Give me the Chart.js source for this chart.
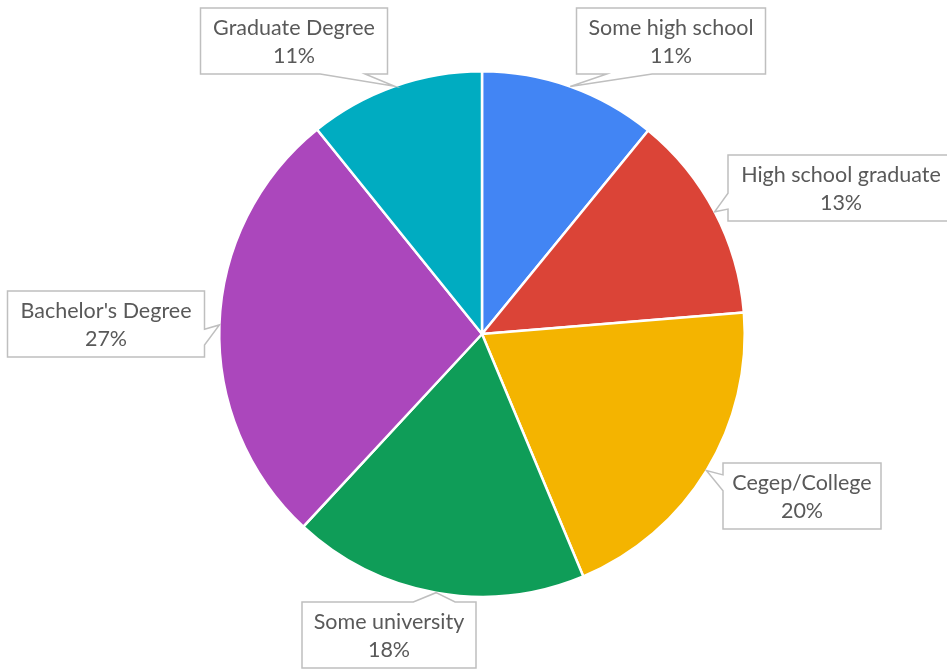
<!DOCTYPE html>
<html>
<head>
<meta charset="utf-8">
<script src="https://cdn.jsdelivr.net/npm/chart.js@4.4.1/dist/chart.umd.min.js"></script>
<style>
  html, body { margin: 0; padding: 0; background: #ffffff; }
  #wrap { width: 947px; height: 669px; }
</style>
</head>
<body>
<div id="wrap"><canvas id="pie"></canvas></div>
<script>
const categories = ["Some high school", "High school graduate", "Cegep/College", "Some university", "Bachelor's Degree", "Graduate Degree"];
const shares = [10.9, 12.8, 20.0, 18.2, 27.3, 10.8];
const colors = ["#4285F4", "#DB4437", "#F4B400", "#0F9D58", "#AB47BC", "#00ACC1"];

// callout box centre and width per slice (layout only)
const boxCenters = [[671, 41], [841, 188], [802, 496], [389, 635], [106, 324], [294, 41]];
const boxWidths = [189, 226, 158, 174, 197, 187];
const boxHeight = 66;

const calloutPlugin = {
  id: "callouts",
  afterDraw(chart) {
    const ctx = chart.ctx;
    const meta = chart.getDatasetMeta(0);
    const total = shares.reduce((a, b) => a + b, 0);
    ctx.save();
    ctx.font = "21.5px Lato";
    ctx.textAlign = "center";
    ctx.textBaseline = "middle";
    meta.data.forEach((arc, i) => {
      const mid = (arc.startAngle + arc.endAngle) / 2;
      const tx = arc.x + Math.cos(mid) * arc.outerRadius;
      const ty = arc.y + Math.sin(mid) * arc.outerRadius;
      const [cx, cy] = boxCenters[i];
      const w = boxWidths[i], h = boxHeight;
      const l = cx - w / 2, r = cx + w / 2, t = cy - h / 2, b = cy + h / 2;

      // which edge gets the pointer
      const ox = tx < l ? l - tx : (tx > r ? tx - r : 0);
      const oy = ty < t ? t - ty : (ty > b ? ty - b : 0);
      const pts = [];
      if (oy >= ox) {
        const f = tx > cx ? 0.76 : 0.28;
        const bw = w * 0.24;
        const m = l + w * f;
        if (ty > b) {
          pts.push([l, t], [r, t], [r, b], [m + bw / 2, b], [tx, ty], [m - bw / 2, b], [l, b]);
        } else {
          pts.push([l, t], [m - bw / 2, t], [tx, ty], [m + bw / 2, t], [r, t], [r, b], [l, b]);
        }
      } else {
        const f = ty > cy ? 0.7 : 0.3;
        const bh = h * 0.24;
        const m = t + h * f;
        if (tx < l) {
          pts.push([l, t], [r, t], [r, b], [l, b], [l, m + bh / 2], [tx, ty], [l, m - bh / 2]);
        } else {
          pts.push([l, t], [r, t], [r, m - bh / 2], [tx, ty], [r, m + bh / 2], [r, b], [l, b]);
        }
      }
      ctx.beginPath();
      pts.forEach((p, k) => k ? ctx.lineTo(p[0], p[1]) : ctx.moveTo(p[0], p[1]));
      ctx.closePath();
      ctx.fillStyle = "#ffffff";
      ctx.fill();
      ctx.strokeStyle = "#bfbfbf";
      ctx.lineWidth = 1.5;
      ctx.stroke();

      ctx.fillStyle = "#595959";
      ctx.fillText(categories[i], cx, cy - 13);
      ctx.fillText(Math.round(shares[i] / total * 100) + "%", cx, cy + 15);
    });
    ctx.restore();
  }
};

new Chart(document.getElementById("pie"), {
  type: "pie",
  data: {
    labels: categories,
    datasets: [{
      data: shares,
      backgroundColor: colors,
      borderColor: "#ffffff",
      borderWidth: 2.5
    }]
  },
  options: {
    responsive: true,
    maintainAspectRatio: false,
    animation: false,
    layout: { padding: { left: 17, right: 0, top: 70, bottom: 71 } },
    plugins: {
      legend: { display: false },
      tooltip: { enabled: false }
    }
  },
  plugins: [calloutPlugin]
});
</script>
</body>
</html>
